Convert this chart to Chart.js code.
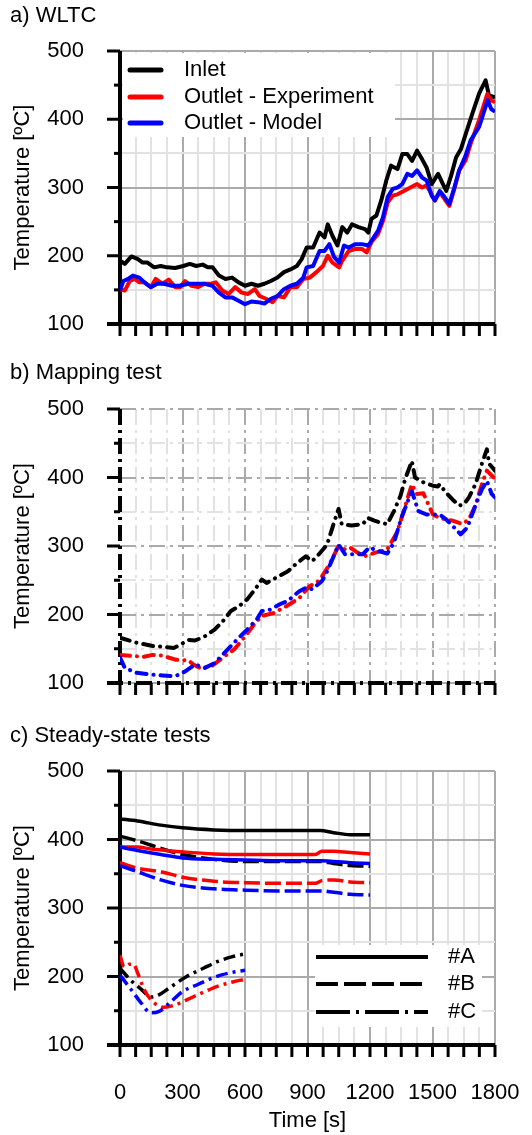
<!DOCTYPE html>
<html>
<head>
<meta charset="utf-8">
<script src="https://cdn.jsdelivr.net/npm/chart.js@4.4.1/dist/chart.umd.min.js"></script>
<style>
  html, body { margin: 0; padding: 0; background: #fff; }
  #wrap { position: relative; width: 532px; height: 1135px; }
  canvas { position: absolute; left: 0; }
</style>
</head>
<body>
<div id="wrap">
  <canvas id="chart-a" width="532" height="345" style="top:0px"></canvas>
  <canvas id="chart-b" width="532" height="355" style="top:345px"></canvas>
  <canvas id="chart-c" width="532" height="435" style="top:700px"></canvas>
</div>
<script>
// axis ticks (time every 75 s, labels every 300 s; temperature every 50, labels every 100)
const timeTicks = [0, 75, 150, 225, 300, 375, 450, 525, 600, 675, 750, 825, 900, 975, 1050, 1125, 1200, 1275, 1350, 1425, 1500, 1575, 1650, 1725, 1800]
const timeLabels = [0, 300, 600, 900, 1200, 1500, 1800]
const tempTicks = [100, 150, 200, 250, 300, 350, 400, 450, 500]
const tempLabels = [100, 200, 300, 400, 500]

const seriesLabels = ['Inlet', 'Outlet - Experiment', 'Outlet - Model']
const steadyLabels = ['#A', '#B', '#C']

// a) WLTC  [time s, temperature C]
const wltcInlet = [[0,193],[23,188],[55,199],[86,195],[109,190],[132,190],[164,183],[195,185],[226,183],[265,182],[304,185],[335,188],[366,185],[397,187],[421,183],[444,183],[475,171],[506,166],[538,168],[569,161],[600,156],[631,159],[662,156],[693,159],[724,163],[756,168],[787,176],[818,180],[849,185],[872,195],[896,212],[927,212],[958,234],[982,227],[997,246],[1020,229],[1044,215],[1067,242],[1091,234],[1114,246],[1145,242],[1176,239],[1192,234],[1207,254],[1231,259],[1254,281],[1278,310],[1301,332],[1332,327],[1355,349],[1379,349],[1402,339],[1426,354],[1449,342],[1472,329],[1496,305],[1527,320],[1550,305],[1566,295],[1589,317],[1613,344],[1636,356],[1660,379],[1692,409],[1724,438],[1755,457],[1771,435],[1800,432]]
const wltcOutletExp = [[0,151],[23,149],[47,163],[70,166],[93,161],[117,161],[148,154],[171,166],[203,159],[234,165],[265,154],[288,154],[312,163],[343,156],[374,154],[405,159],[436,159],[460,161],[491,149],[522,144],[553,154],[584,146],[615,144],[647,151],[670,141],[701,137],[732,132],[756,141],[787,139],[818,154],[849,154],[880,166],[911,168],[943,176],[974,185],[997,200],[1020,190],[1052,183],[1067,193],[1098,207],[1130,210],[1161,210],[1184,205],[1207,220],[1239,232],[1262,251],[1285,278],[1309,288],[1332,290],[1363,295],[1394,300],[1426,305],[1449,300],[1472,303],[1496,290],[1511,281],[1535,293],[1558,283],[1581,273],[1605,298],[1628,325],[1659,340],[1683,364],[1724,399],[1763,437],[1780,428],[1800,425]]
const wltcOutletModel = [[0,149],[16,163],[39,166],[62,171],[93,168],[117,161],[148,154],[179,159],[210,159],[249,156],[288,156],[327,159],[366,159],[405,159],[444,156],[475,146],[506,139],[538,139],[569,134],[600,129],[631,133],[662,132],[693,130],[724,137],[756,141],[787,151],[818,156],[849,159],[880,168],[896,183],[927,185],[958,207],[982,207],[1005,217],[1028,198],[1052,190],[1075,215],[1098,212],[1130,217],[1161,217],[1192,215],[1207,222],[1239,237],[1262,256],[1285,286],[1309,298],[1332,300],[1355,305],[1379,320],[1402,317],[1426,325],[1449,315],[1472,310],[1496,288],[1511,281],[1535,295],[1558,286],[1581,276],[1605,300],[1628,325],[1659,347],[1683,369],[1724,389],[1765,428],[1782,415],[1800,411]]

// b) Mapping test
const mapInlet = [[0,166],[78,159],[157,154],[203,153],[258,151],[290,156],[329,163],[360,162],[407,168],[454,178],[493,190],[532,205],[571,212],[610,222],[649,237],[681,251],[704,246],[751,254],[806,263],[853,276],[892,285],[923,278],[955,288],[994,302],[1025,332],[1049,354],[1064,332],[1111,330],[1166,332],[1189,341],[1221,337],[1252,334],[1283,332],[1315,351],[1346,373],[1369,398],[1401,424],[1416,400],[1456,393],[1502,388],[1526,387],[1534,390],[1565,378],[1596,368],[1628,359],[1651,361],[1675,371],[1706,390],[1737,420],[1761,441],[1772,420],[1800,410]]
const mapOutletExp = [[0,141],[78,139],[110,138],[157,141],[203,140],[266,134],[329,133],[352,127],[383,122],[438,124],[493,137],[548,149],[595,166],[642,185],[681,198],[736,202],[798,212],[861,224],[908,241],[955,249],[1002,271],[1049,300],[1080,295],[1103,298],[1142,290],[1174,285],[1221,290],[1283,295],[1330,320],[1362,351],[1401,390],[1424,376],[1456,377],[1502,346],[1534,341],[1596,337],[1643,332],[1675,339],[1706,359],[1737,390],[1761,410],[1800,398]]
const mapOutletModel = [[0,137],[23,122],[78,115],[157,112],[203,111],[266,110],[313,117],[360,127],[407,122],[454,129],[501,144],[548,159],[610,178],[657,193],[681,205],[720,207],[767,215],[806,220],[861,234],[892,239],[923,237],[970,249],[1002,268],[1049,302],[1080,288],[1127,288],[1166,288],[1197,298],[1236,293],[1283,289],[1315,305],[1354,344],[1385,368],[1401,380],[1432,351],[1471,346],[1534,346],[1565,339],[1604,327],[1635,317],[1667,327],[1706,359],[1737,383],[1761,395],[1784,376],[1800,371]]

// c) Steady-state tests
const steadyAInlet = [[0,430],[84,427],[196,421],[300,417],[451,414],[602,413],[754,413],[961,413],[1025,410],[1105,407],[1200,407]]
const steadyAExp = [[0,389],[84,389],[148,386],[300,382],[451,379],[602,378],[754,378],[937,378],[969,383],[1025,383],[1105,381],[1200,379]]
const steadyAModel = [[0,389],[84,384],[196,378],[300,373],[451,371],[602,370],[754,369],[961,369],[1105,366],[1200,365]]
const steadyBInlet = [[0,405],[84,398],[196,387],[300,378],[451,371],[602,368],[754,368],[961,368],[1025,365],[1105,362],[1200,361]]
const steadyBExp = [[0,366],[84,358],[196,353],[300,345],[451,339],[602,337],[754,336],[937,336],[969,340],[1025,341],[1105,338],[1200,337]]
const steadyBModel = [[0,362],[84,353],[196,341],[300,333],[451,328],[602,326],[754,325],[961,325],[1025,323],[1105,320],[1200,319]]
const steadyCInlet = [[0,212],[50,195],[100,182],[148,170],[180,172],[240,184],[320,200],[400,212],[470,222],[540,229],[600,233]]
const steadyCExp = [[0,231],[20,214],[45,218],[65,218],[85,205],[116,181],[148,166],[180,158],[210,155],[260,158],[320,166],[400,177],[470,186],[540,192],[600,196]]
const steadyCModel = [[0,202],[53,181],[100,162],[148,147],[188,149],[240,162],[300,178],[371,188],[430,196],[483,202],[540,206],[600,209]]

const BLACK = '#000000', RED = '#ff0000', BLUE = '#0000ff'
const FONT = '"Liberation Sans", Arial, sans-serif'
Chart.defaults.font.family = FONT
Chart.defaults.font.size = 22
Chart.defaults.color = '#000'

const toXY = pts => pts.map(([x, y]) => ({ x, y }))

function line(ctx, x1, y1, x2, y2) {
  ctx.beginPath(); ctx.moveTo(x1, y1); ctx.lineTo(x2, y2); ctx.stroke()
}

// axis lines + tick marks drawn under the data
function makeAxisFrame(dash) {
  return {
    id: 'axisFrame',
    beforeDatasetsDraw(chart) {
      const { ctx, chartArea: a, scales: { x, y } } = chart
      ctx.save()
      ctx.strokeStyle = '#000'
      ctx.lineCap = 'butt'
      ctx.lineWidth = 3
      ctx.setLineDash([])
      x.ticks.forEach(t => {
        const px = x.getPixelForValue(t.value)
        line(ctx, px, a.bottom, px, a.bottom + 12)
      })
      y.ticks.forEach(t => {
        const py = y.getPixelForValue(t.value)
        const len = tempLabels.includes(t.value) ? 13 : 6
        line(ctx, a.left - len, py, a.left, py)
      })
      ctx.lineWidth = 4
      ctx.setLineDash(dash)
      line(ctx, a.left, a.top, a.left, a.bottom)
      line(ctx, a.left - 13, a.bottom, a.right, a.bottom)
      ctx.restore()
    }
  }
}

// legend in a white box inside the plot
function makeBoxLegend(cfg) {
  return {
    id: 'boxLegend',
    beforeDatasetsDraw(chart) {
      const { ctx, chartArea: a } = chart
      ctx.save()
      ctx.fillStyle = '#fff'
      ctx.fillRect(a.left + cfg.box[0], a.top + cfg.box[1], cfg.box[2], cfg.box[3])
      ctx.font = '22px ' + FONT
      ctx.textBaseline = 'middle'
      ctx.textAlign = 'left'
      cfg.items.forEach((it, i) => {
        const yy = a.top + cfg.rowY[i]
        ctx.strokeStyle = it.color
        ctx.lineWidth = cfg.lineWidth
        ctx.lineCap = cfg.cap
        ctx.setLineDash(it.dash || [])
        line(ctx, a.left + cfg.lineX[0], yy, a.left + cfg.lineX[1], yy)
        ctx.fillStyle = '#000'
        ctx.fillText(it.text, a.left + cfg.textX, yy)
      })
      ctx.restore()
    }
  }
}

function ds(pts, color, width, dash, order, smooth) {
  return {
    data: toXY(pts),
    borderColor: color,
    borderWidth: width,
    borderDash: dash || [],
    borderCapStyle: dash && dash.length === 4 && dash[2] < 1 ? 'round' : 'butt',
    borderJoinStyle: 'round',
    pointRadius: 0,
    tension: smooth ? 0.4 : 0,
    cubicInterpolationMode: smooth ? 'monotone' : 'default',
    fill: false,
    order: order
  }
}

function makeChart(id, p) {
  const gridColor = major => major ? '#aaaaaa' : '#e2e2e2'
  return new Chart(document.getElementById(id), {
    type: 'line',
    data: { datasets: p.datasets },
    options: {
      responsive: false,
      animation: false,
      devicePixelRatio: 1,
      layout: { padding: { left: 10, right: 37, top: 0, bottom: 0 } },
      plugins: {
        legend: { display: false },
        tooltip: { enabled: false },
        title: {
          display: true, text: p.title, align: 'start', color: '#000',
          font: { size: 22, weight: 'normal' },
          padding: { top: p.titleTop, bottom: p.titleBottom }
        }
      },
      scales: {
        x: {
          type: 'linear', min: 0, max: 1800,
          afterBuildTicks: s => { s.ticks = timeTicks.map(v => ({ value: v })) },
          afterFit: s => { s.height = p.xHeight; s.paddingLeft = 0; s.paddingRight = 0 },
          ticks: {
            display: p.showX, autoSkip: false, maxRotation: 0, padding: 35,
            callback: v => timeLabels.includes(v) ? String(v) : ''
          },
          grid: { color: c => gridColor(timeLabels.includes(c.tick.value)), lineWidth: 2, drawTicks: false },
          border: { display: false, dash: p.gridDash },
          title: { display: p.showX, text: 'Time [s]', padding: { top: 0, bottom: 1 } }
        },
        y: {
          type: 'linear', min: 100, max: 500,
          afterBuildTicks: s => { s.ticks = tempTicks.map(v => ({ value: v })) },
          afterFit: s => { s.width = 110; s.paddingTop = 0; s.paddingBottom = 0 },
          ticks: { padding: 36, callback: v => tempLabels.includes(v) ? String(v) : '' },
          grid: { color: c => gridColor(tempLabels.includes(c.tick.value)), lineWidth: 2, drawTicks: false },
          border: { display: false, dash: p.gridDash },
          title: { display: true, text: 'Temperature [ºC]', padding: { top: 0, bottom: 0 } }
        }
      }
    },
    plugins: p.plugins
  })
}

const dashDot = [10, 7, 0.1, 7]
const dashB = [16, 5]
const dashC = [12, 5, 3, 5]

makeChart('chart-a', {
  title: 'a) WLTC', titleTop: 2.4, titleBottom: 22.2, xHeight: 21, showX: false, gridDash: [],
  datasets: [
    ds(wltcInlet, BLACK, 4, null, 2),
    ds(wltcOutletExp, RED, 4, null, 1),
    ds(wltcOutletModel, BLUE, 4, null, 0)
  ],
  plugins: [makeAxisFrame([]), makeBoxLegend({
    box: [3, 2, 272, 84], lineX: [10, 41], textX: 64, rowY: [19, 46, 72], lineWidth: 5, cap: 'round',
    items: [
      { text: seriesLabels[0], color: BLACK },
      { text: seriesLabels[1], color: RED },
      { text: seriesLabels[2], color: BLUE }
    ]
  })]
})

makeChart('chart-b', {
  title: 'b) Mapping test', titleTop: 14.8, titleBottom: 22.8, xHeight: 17, showX: false, gridDash: [16, 5, 3, 5],
  datasets: [
    ds(mapInlet, BLACK, 4, dashDot, 2),
    ds(mapOutletExp, RED, 4, dashDot, 1),
    ds(mapOutletModel, BLUE, 4, dashDot, 0)
  ],
  plugins: [makeAxisFrame([16, 5, 3, 5])]
})

makeChart('chart-c', {
  title: 'c) Steady-state tests', titleTop: 22.8, titleBottom: 21.8, xHeight: 90, showX: true, gridDash: [],
  datasets: [
    ds(steadyAInlet, BLACK, 3.5, null, 2, true),
    ds(steadyAExp, RED, 3.5, null, 1, true),
    ds(steadyAModel, BLUE, 3.5, null, 0, true),
    ds(steadyBInlet, BLACK, 3.5, dashB, 2, true),
    ds(steadyBExp, RED, 3.5, dashB, 1, true),
    ds(steadyBModel, BLUE, 3.5, dashB, 0, true),
    ds(steadyCInlet, BLACK, 3.5, dashC, 2, true),
    ds(steadyCExp, RED, 3.5, dashC, 1, true),
    ds(steadyCModel, BLUE, 3.5, dashC, 0, true)
  ],
  plugins: [makeAxisFrame([]), makeBoxLegend({
    box: [195, 174, 167, 82], lineX: [196, 308], textX: 328, rowY: [186, 213, 241], lineWidth: 4, cap: 'butt',
    items: [
      { text: steadyLabels[0], color: BLACK },
      { text: steadyLabels[1], color: BLACK, dash: [22, 6] },
      { text: steadyLabels[2], color: BLACK, dash: [34, 6, 3, 6] }
    ]
  })]
})
</script>
</body>
</html>
